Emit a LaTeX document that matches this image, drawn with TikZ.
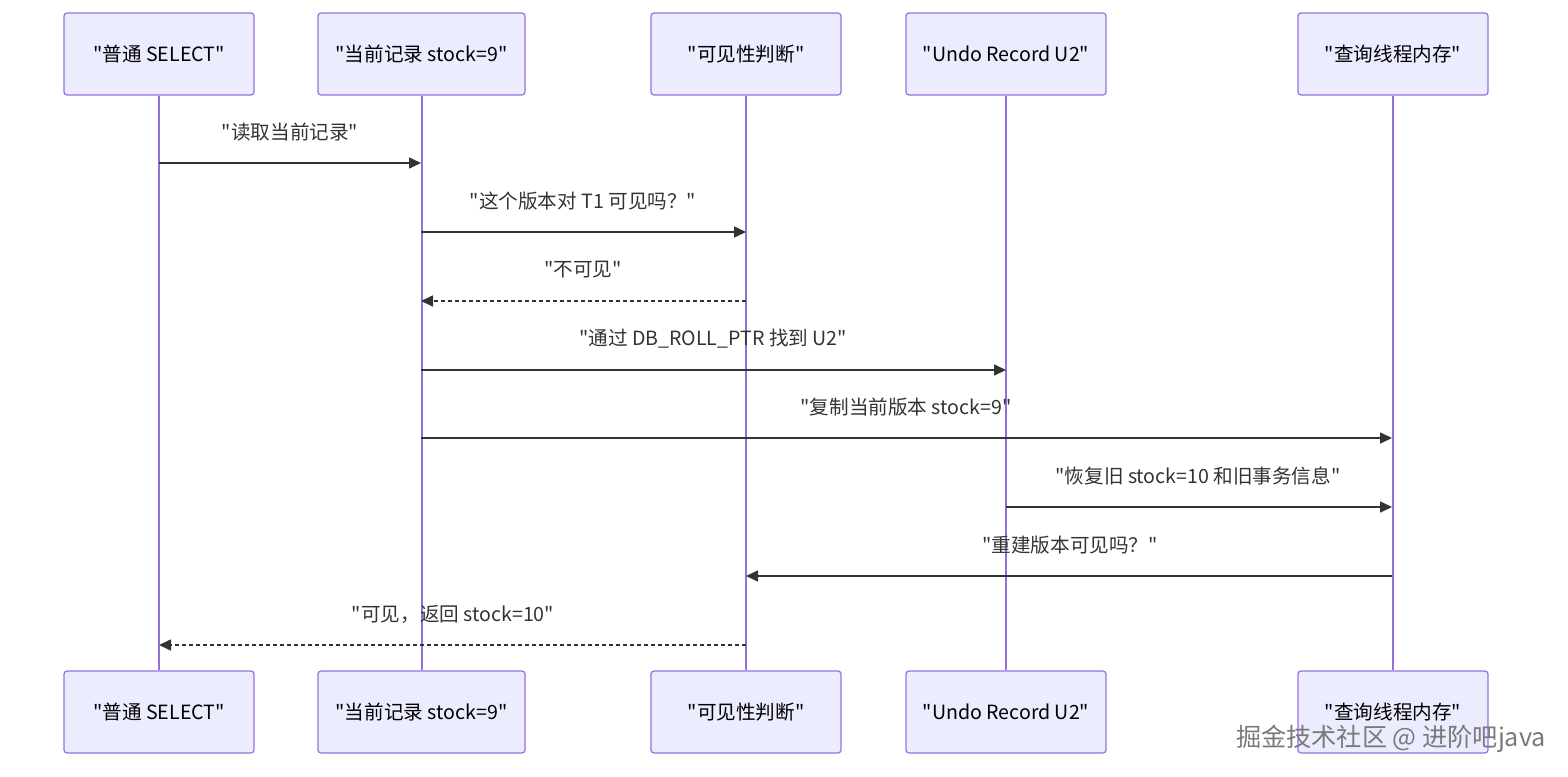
\documentclass[tikz,border=0pt]{standalone}
\usepackage{fontspec}
\setmainfont{Noto Sans CJK SC}[Ligatures=TeXOff]
\usetikzlibrary{arrows.meta}
\definecolor{actfill}{HTML}{ECECFF}
\definecolor{actdraw}{HTML}{9370DB}
\definecolor{msg}{HTML}{333333}
\definecolor{wm}{HTML}{7A7A7A}
\tikzset{
  actor/.style={draw=actdraw, fill=actfill, line width=0.6pt, rounded corners=1.5pt,
    minimum height=41pt, inner sep=0pt, font=\fontsize{9.8pt}{11pt}\selectfont, text=black},
  life/.style={draw=actdraw, line width=1pt},
  msgline/.style={draw=msg, line width=0.8pt, -{Triangle[length=6pt,width=5.5pt]}},
  reply/.style={msgline, dash pattern=on 2pt off 1.5pt},
  lbl/.style={font=\fontsize{9.8pt}{11pt}\selectfont, text=msg, inner sep=0pt}
}
\begin{document}
\begin{tikzpicture}[x=0.5pt,y=-0.5pt]
\useasboundingbox (0,0) rectangle (1568,776);
% top actors
\node[actor, minimum width=95pt] (a1) at (159,54) {"普通 SELECT"};
\node[actor, minimum width=103.5pt] (a2) at (421.5,54) {"当前记录 stock=9"};
\node[actor, minimum width=95pt] (a3) at (746,54) {"可见性判断"};
\node[actor, minimum width=100pt] (a4) at (1006,54) {"Undo Record U2"};
\node[actor, minimum width=95pt] (a5) at (1393,54) {"查询线程内存"};
% bottom actors
\node[actor, minimum width=95pt] (b1) at (159,712) {"普通 SELECT"};
\node[actor, minimum width=103.5pt] (b2) at (421.5,712) {"当前记录 stock=9"};
\node[actor, minimum width=95pt] (b3) at (746,712) {"可见性判断"};
\node[actor, minimum width=100pt] (b4) at (1006,712) {"Undo Record U2"};
\node[actor, minimum width=95pt] (b5) at (1393,712) {"查询线程内存"};
% lifelines
\foreach \i in {1,...,5} {\draw[life] (a\i.south) -- (b\i.north);}
% message endpoints
\coordinate (m1s) at (159,163);  \coordinate (m1e) at (421,163);
\coordinate (m2s) at (421,232);  \coordinate (m2e) at (746,232);
\coordinate (m3s) at (746,301);  \coordinate (m3e) at (421,301);
\coordinate (m4s) at (421,370);  \coordinate (m4e) at (1006,370);
\coordinate (m5s) at (421,438);  \coordinate (m5e) at (1392,438);
\coordinate (m6s) at (1006,507); \coordinate (m6e) at (1392,507);
\coordinate (m7s) at (1392,576); \coordinate (m7e) at (746,576);
\coordinate (m8s) at (746,645);  \coordinate (m8e) at (159,645);
% messages
\draw[msgline] (m1s) -- (m1e);
\draw[msgline] (m2s) -- (m2e);
\draw[reply] (m3s) -- (m3e);
\draw[msgline] (m4s) -- (m4e);
\draw[msgline] (m5s) -- (m5e);
\draw[msgline] (m6s) -- (m6e);
\draw[msgline] (m7s) -- (m7e);
\draw[reply] (m8s) -- (m8e);
% labels
\node[lbl] (l1) at (290,132) {"读取当前记录"};
\node[lbl] (l2) at (583,201) {"这个版本对 T1 可见吗？"};
\node[lbl] (l3) at (583,270) {"不可见"};
\node[lbl] (l4) at (713,339) {"通过 DB\_ROLL\_PTR 找到 U2"};
\node[lbl] (l5) at (906,407) {"复制当前版本 stock=9"};
\node[lbl] (l6) at (1198,476) {"恢复旧 stock=10 和旧事务信息"};
\node[lbl] (l7) at (1070,545) {"重建版本可见吗？"};
\node[lbl] (l8) at (453,614) {"可见，返回 stock=10"};
% watermark
\node[font=\fontsize{12.6pt}{14pt}\selectfont, text=wm, inner sep=0pt] (wm) at (1391,739) {掘金技术社区 @ 进阶吧java};
\end{tikzpicture}
\end{document}
